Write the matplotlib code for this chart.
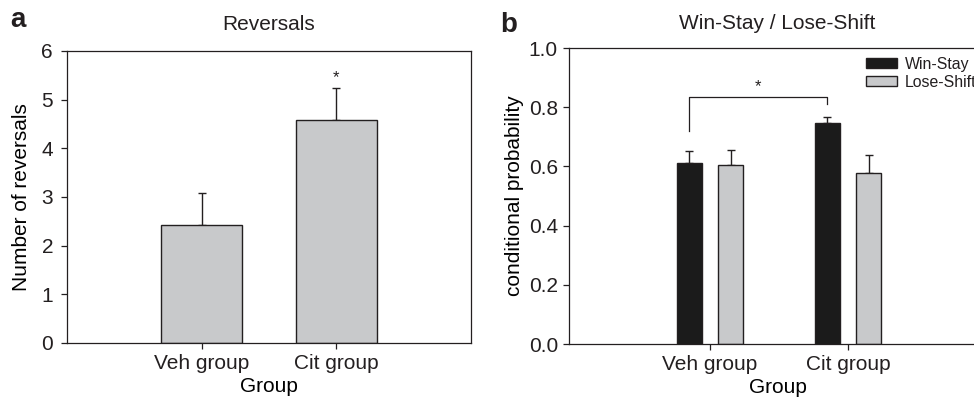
import matplotlib

matplotlib.use("Agg")

import matplotlib.pyplot as plt  # noqa: E402
import numpy as np  # noqa: E402

# ---------------------------------------------------------------------------
# Data
# ---------------------------------------------------------------------------
groups = ["Veh group", "Cit group"]

reversals_mean = [2.43, 4.58]
reversals_sem = [0.66, 0.65]

win_stay_mean = [0.611, 0.746]
win_stay_sem = [0.041, 0.021]
lose_shift_mean = [0.606, 0.579]
lose_shift_sem = [0.051, 0.060]

_GREY = "#c8c9cb"
_BLACK = "#1b1b1b"
_EDGE = "#231f20"
_TEXT = "#231f20"

plt.rcParams["font.family"] = ["Liberation Sans", "DejaVu Sans"]
plt.rcParams["text.color"] = _TEXT
plt.rcParams["axes.edgecolor"] = _EDGE
plt.rcParams["axes.linewidth"] = 0.9
plt.rcParams["xtick.color"] = _EDGE
plt.rcParams["ytick.color"] = _EDGE
plt.rcParams["xtick.labelcolor"] = _TEXT
plt.rcParams["ytick.labelcolor"] = _TEXT

W, H = 974, 408
fig = plt.figure(figsize=(W / 100, H / 100), dpi=100)


def _px_axes(left, top, right, bottom):
    return fig.add_axes([left / W, 1 - bottom / H, (right - left) / W, (bottom - top) / H])


def _style(ax, ypad):
    ax.tick_params(axis="both", direction="out", length=4, width=0.9, labelsize=15)
    ax.tick_params(axis="y", pad=ypad)
    ax.tick_params(axis="x", pad=4)
    ax.tick_params(top=False, right=False)


x = np.arange(1, len(groups) + 1)

# ---- Panel a: reversals ----
ax_a = _px_axes(67, 51, 471, 343)
ax_a.bar(x, reversals_mean, width=0.6, color=_GREY, edgecolor=_EDGE, linewidth=1.0, zorder=2)
ax_a.errorbar(x, reversals_mean, yerr=[np.zeros(len(x)), reversals_sem], fmt="none",
              ecolor=_EDGE, elinewidth=1.0, capsize=3, capthick=1.0, zorder=1)
ax_a.set_xlim(0, 3)
ax_a.set_ylim(0, 6)
ax_a.set_xticks(x)
ax_a.set_xticklabels(groups)
ax_a.set_yticks(range(0, 7))
_style(ax_a, 6)
ax_a.set_ylabel("Number of reversals", fontsize=15, labelpad=7.5)
ax_a.set_xlabel("Group", fontsize=15, labelpad=3)
ax_a.set_title("Reversals", fontsize=15, pad=15)
ax_a.text(x[1], reversals_mean[1] + reversals_sem[1] + 0.22, "*", ha="center", va="center",
          fontsize=12)
fig.text(10 / W, 1 - 27 / H, "a", fontsize=20, fontweight="bold", va="baseline")

# ---- Panel b: win-stay / lose-shift ----
ax_b = _px_axes(569, 48, 986, 344)
off, bw = 0.15, 0.18
ax_b.bar(x - off, win_stay_mean, width=bw, color=_BLACK, edgecolor=_EDGE, linewidth=1.0,
         zorder=2, label="Win-Stay")
ax_b.bar(x + off, lose_shift_mean, width=bw, color=_GREY, edgecolor=_EDGE, linewidth=1.0,
         zorder=2, label="Lose-Shift")
ax_b.errorbar(x - off, win_stay_mean, yerr=[np.zeros(len(x)), win_stay_sem], fmt="none",
              ecolor=_EDGE, elinewidth=1.0, capsize=3, capthick=1.0, zorder=1)
ax_b.errorbar(x + off, lose_shift_mean, yerr=[np.zeros(len(x)), lose_shift_sem], fmt="none",
              ecolor=_EDGE, elinewidth=1.0, capsize=3, capthick=1.0, zorder=1)
ax_b.set_xlim(-0.02, 3)
ax_b.set_ylim(0, 1.0)
ax_b.set_xticks(x)
ax_b.set_xticklabels(groups)
ax_b.set_yticks(np.arange(0, 1.01, 0.2))
ax_b.yaxis.set_major_formatter(plt.FormatStrFormatter("%.1f"))
_style(ax_b, 4)
ax_b.set_ylabel("conditional probability", fontsize=15, labelpad=3.5)
ax_b.set_xlabel("Group", fontsize=15, labelpad=3)
ax_b.set_title("Win-Stay / Lose-Shift", fontsize=15, pad=14)

# significance bracket between the two Win-Stay bars
bx = [x[0] - off, x[0] - off, x[1] - off, x[1] - off]
by = [0.72, 0.835, 0.835, 0.81]
ax_b.plot(bx, by, color=_EDGE, linewidth=0.9)
ax_b.text(np.mean([x[0] - off, x[1] - off]), 0.868, "*", ha="center", va="center", fontsize=12)

# legend runs off the right edge, as in the original panel
leg = ax_b.legend(loc="upper left", bbox_to_anchor=(865.7 / W, 1 - 56.5 / H),
                  bbox_transform=fig.transFigure, frameon=False, fontsize=11.4,
                  handlelength=2.0, handleheight=0.55, handletextpad=0.45,
                  labelspacing=0.2, borderpad=0, borderaxespad=0)

fig.text(500 / W, 1 - 32.5 / H, "b", fontsize=20, fontweight="bold", va="baseline")

fig.savefig("out.png", dpi=100)
plt.close(fig)
